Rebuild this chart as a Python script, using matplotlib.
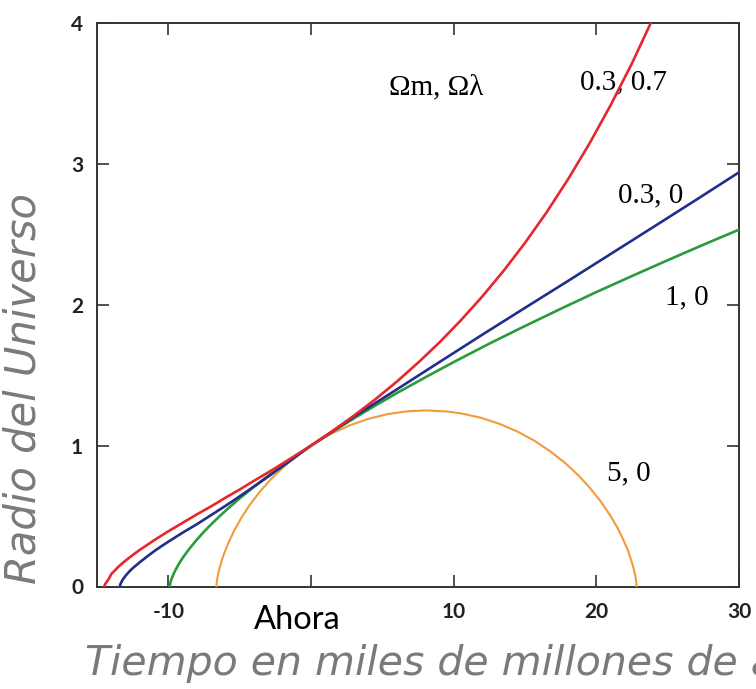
import matplotlib
matplotlib.use("Agg")
import matplotlib.pyplot as plt
from matplotlib.patches import Rectangle

# scale factor vs time (Gyr from now)
t_red = [-14.5, -14.4, -14.2, -14.0, -13.5, -13.0, -12.5, -12.0, -11.0, -10.0, -9.0,
         -8.0, -7.0, -6.0, -5.0, -4.0, -3.0, -2.0, -1.0, 0.0, 1.5, 3.0, 4.5, 6.0,
         7.5, 9.0, 10.5, 12.0, 13.5, 15.0, 16.5, 18.0, 19.5, 21.0, 22.5, 24.0]
a_red = [0.0, 0.022, 0.05, 0.088, 0.14, 0.184, 0.223, 0.26, 0.328, 0.392, 0.452,
         0.512, 0.569, 0.63, 0.688, 0.75, 0.81, 0.872, 0.936, 1.0, 1.103, 1.212,
         1.328, 1.453, 1.588, 1.732, 1.889, 2.058, 2.241, 2.439, 2.654, 2.888,
         3.141, 3.416, 3.714, 4.04]

t_blue = [-13.4, -13.35, -13.3, -13.2, -13.0, -12.75, -12.5, -12.0, -11.5, -11.0,
          -10.5, -10.0, -9.0, -8.0, -7.0, -6.0, -5.0, -4.0, -3.0, -2.0, -1.0, 0.0,
          1.5, 3.0, 6.0, 9.0, 12.0, 15.0, 18.0, 21.0, 24.0, 27.0, 30.0]
a_blue = [0.0, 0.019, 0.03, 0.048, 0.076, 0.105, 0.13, 0.172, 0.212, 0.25,
          0.285, 0.318, 0.382, 0.442, 0.507, 0.572, 0.64, 0.71, 0.78, 0.853, 0.926, 1.0,
          1.1, 1.205, 1.398, 1.593, 1.787, 1.978, 2.168, 2.36, 2.552, 2.745, 2.94]

t_green = [-9.9, -9.85, -9.8, -9.6, -9.3, -9.1, -8.9, -8.5, -8.0, -7.5, -7.0, -6.5,
           -6.0, -5.0, -4.0, -3.0, -2.0, -1.0, 0.0, 1.5, 3.0, 4.5, 6.0, 8.0, 10.0,
           12.5, 15.0, 17.5, 20.0, 22.5, 25.0, 27.5, 30.0]
a_green = [0.0, 0.03, 0.047, 0.097, 0.154, 0.187, 0.217, 0.271, 0.333, 0.389, 0.441,
           0.49, 0.537, 0.626, 0.708, 0.786, 0.86, 0.932, 1.0, 1.099, 1.193, 1.284,
           1.372, 1.484, 1.593, 1.724, 1.849, 1.971, 2.09, 2.204, 2.316, 2.426, 2.533]

t_orange = [-6.63, -6.627, -6.61, -6.56, -6.46, -6.31, -6.08, -5.77, -5.37, -4.88,
            -4.28, -3.57, -2.76, -1.84, -0.83, 0.27, 1.45, 2.71, 4.02, 5.38, 6.77,
            8.1, 9.58, 10.5, 11.87, 13.2, 14.47, 15.67, 16.79, 17.82, 18.76, 19.59,
            20.32, 20.95, 21.47, 21.89, 22.22, 22.46, 22.63, 22.74, 22.79, 22.81, 22.82]
a_orange = [0.0, 0.007, 0.028, 0.062, 0.109, 0.168, 0.237, 0.314, 0.399, 0.488,
            0.581, 0.675, 0.767, 0.856, 0.941, 1.018, 1.086, 1.144, 1.19, 1.224, 1.244,
            1.25, 1.242, 1.229, 1.199, 1.155, 1.1, 1.034, 0.958, 0.876, 0.787, 0.695,
            0.602, 0.508, 0.419, 0.332, 0.255, 0.182, 0.121, 0.072, 0.035, 0.025, 0.0]

x_ticks = [-10, 0, 10, 20, 30]
y_ticks = [0, 1, 2, 3, 4]

W, H = 756, 689
fig = plt.figure(figsize=(W / 100, H / 100), dpi=100)
ax = fig.add_axes([97 / W, 1 - 586.5 / H, 642 / W, 563.5 / H])

ax.plot(t_orange, a_orange, color="#f39a3a", lw=1.5, zorder=3)
ax.plot(t_green, a_green, color="#2a9a3c", lw=1.9, zorder=4)
ax.plot(t_blue, a_blue, color="#1f2f8a", lw=1.9, zorder=5)
ax.plot(t_red, a_red, color="#e8262d", lw=1.9, zorder=6)

ax.set_xlim(-15, 30)
ax.set_ylim(0, 4)
ax.set_xticks(x_ticks)
# the "0" label sits under the "Ahora" box in the original
ax.set_xticklabels(["" if v == 0 else str(v) for v in x_ticks])
ax.set_yticks(y_ticks)
ax.set_yticklabels([str(v) for v in y_ticks])
ax.tick_params(direction="in", top=True, right=True, length=8.5, width=1.2,
               color="#333333", labelcolor="#222222")
ax.tick_params(axis="x", pad=11)
ax.tick_params(axis="y", pad=10)
for lab in ax.get_xticklabels() + ax.get_yticklabels():
    lab.set_fontfamily("Lato")
    lab.set_fontweight("bold")
    lab.set_fontsize(15)
for sp in ax.spines.values():
    sp.set_linewidth(1.4)
    sp.set_color("#333333")

serif = "Liberation Serif"
ax.text(5.5, 3.49, "Ωm, Ωλ", family=serif, fontsize=21, zorder=2)
ax.text(18.85, 3.53, "0.3, 0.7", family=serif, fontsize=21, zorder=2)
ax.text(21.5, 2.73, "0.3, 0", family=serif, fontsize=21, zorder=2)
ax.text(24.8, 2.0, "1, 0", family=serif, fontsize=21, zorder=2)
ax.text(20.75, 0.756, "5, 0", family=serif, fontsize=21, zorder=2)

box = Rectangle((197 / W, 1 - 637 / H), 196 / W, 49 / H, transform=fig.transFigure,
                facecolor="white", edgecolor="none", zorder=10)
fig.add_artist(box)
fig.text(297.5 / W, 1 - 620 / H, "Ahora", family="Lato", fontsize=23.5,
         ha="center", va="center", color="black", zorder=11)

gray = "#7a7a7a"
fig.text(85 / W, 1 - 675 / H, "Tiempo en miles de millones de años",
         family="DejaVu Sans", style="oblique", fontsize=29.5, color=gray,
         ha="left", va="baseline")
fig.text(36 / W, 1 - 389 / H, "Radio del Universo", family="DejaVu Sans",
         style="oblique", fontsize=30, color=gray, rotation=90,
         rotation_mode="anchor", ha="center", va="baseline")

fig.savefig("out.png", dpi=100)
